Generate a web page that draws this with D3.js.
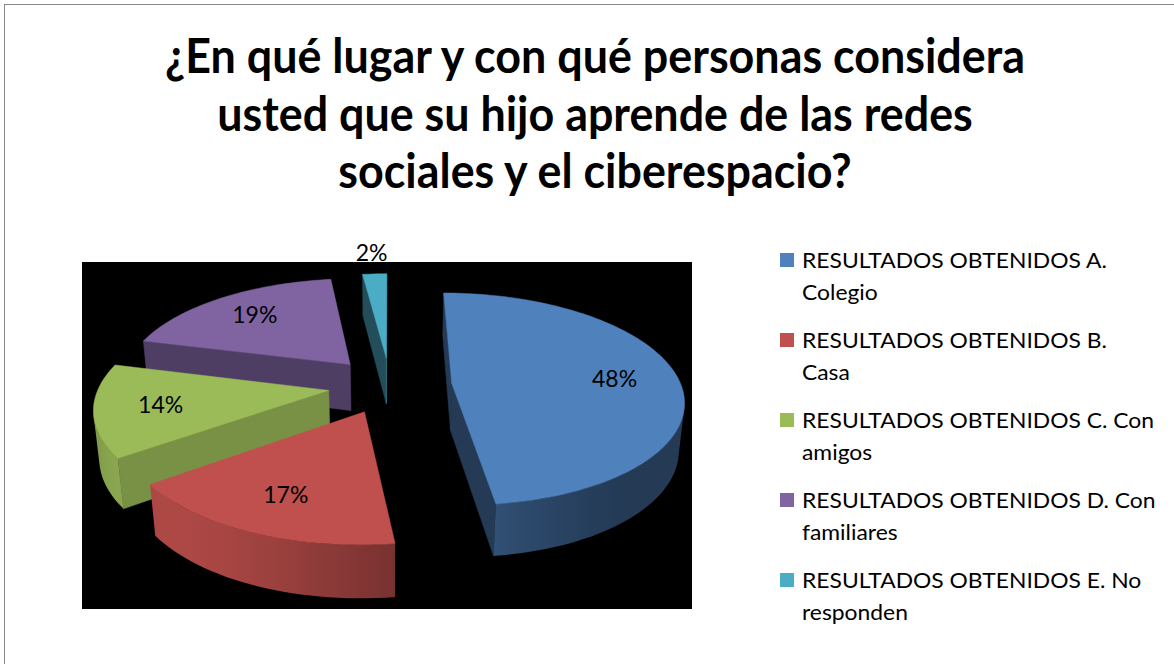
<!DOCTYPE html>
<head>
  <meta charset="utf-8">
  <script src="https://d3js.org/d3.v7.min.js"></script>
  <style>
    body { margin:0; background:#fff; }
    text { font-family: Lato, "Open Sans", sans-serif; fill:#000; }
  </style>
</head>
<body>
  <script>
    // data
    var titleLines = ["¿En qué lugar y con qué personas considera",
                      "usted que su hijo aprende de las redes",
                      "sociales y el ciberespacio?"];
    var categories = ["RESULTADOS OBTENIDOS A. Colegio",
                      "RESULTADOS OBTENIDOS B. Casa",
                      "RESULTADOS OBTENIDOS C. Con amigos",
                      "RESULTADOS OBTENIDOS D. Con familiares",
                      "RESULTADOS OBTENIDOS E. No responden"];
    var values = [48, 17, 14, 19, 2];
    var colors = ["#4f81bd", "#c0504d", "#9bbb59", "#8064a2", "#4bacc6"];

    var width = 1174, height = 664;

    var svg = d3.select("body").append("svg")
      .attr("width", width)
      .attr("height", height);
    var defs = svg.append("defs");

    // chart frame (cut off at right and bottom like the picture)
    svg.append("rect")
      .attr("x", 4.5).attr("y", 4.5)
      .attr("width", width + 20).attr("height", height + 20)
      .attr("fill", "#fff")
      .attr("stroke", "#8a8a8a");

    // black plot area
    var plot = {x: 82, y: 262, w: 610, h: 347};
    svg.append("rect")
      .attr("x", plot.x).attr("y", plot.y)
      .attr("width", plot.w).attr("height", plot.h)
      .attr("fill", "#000");

    // ---- title, squeezed to the width of the original ----
    var titleRows = svg.append("g").selectAll("g")
      .data(titleLines)
      .enter().append("g");
    var titleText = titleRows.append("text")
      .attr("text-anchor", "middle")
      .style("font-weight", "bold")
      .style("font-size", "48px")
      .text(function(d) { return d; });
    var titleK = 860 / titleText.node().getComputedTextLength();
    titleRows.attr("transform", function(d, i) {
      return "translate(595," + (73 + i * 57.5) + ") scale(" + titleK + ",1)";
    });

    // ---- 3D exploded pie ----
    var pie = d3.pie().sort(null).value(function(d) { return d; });
    var slices = pie(values);
    var total = d3.sum(values);
    var pct = d3.format(".0%");

    var cam = {phi: 29 * Math.PI / 180, D: 6, f: 1350, cx: 390, cy: 432};
    var thick = 0.234, explode = 0.27;
    var sinP = Math.sin(cam.phi), cosP = Math.cos(cam.phi);
    var camPos = [0, cam.D * sinP, cam.D * cosP];

    function proj(p) {
      var d = cam.D - (p[1] * sinP + p[2] * cosP);
      var v = p[1] * cosP - p[2] * sinP;
      return [cam.cx + cam.f * p[0] / d, cam.cy - cam.f * v / d];
    }
    function shade(c, k) {
      var r = d3.rgb(c);
      return d3.rgb(r.r * k, r.g * k, r.b * k).formatHex();
    }
    function poly(pts) {
      return "M" + pts.map(function(p) { return proj(p).join(","); }).join("L") + "Z";
    }
    function facing(n, p) {
      return n[0] * (camPos[0] - p[0]) + n[1] * (camPos[1] - p[1]) + n[2] * (camPos[2] - p[2]) > 0;
    }
    // rim lit from front-left, cut faces from front-right
    function rimTone(n) {
      var l = Math.max(0, (-n[0] + n[2]) * Math.SQRT1_2);
      return 0.45 + 0.45 * l * l;
    }
    function cutTone(n) {
      var l = Math.max(0, (n[0] + n[2]) * Math.SQRT1_2);
      return 0.45 + 0.33 * l;
    }

    slices.forEach(function(s, i) {
      s.mid = (s.startAngle + s.endAngle) / 2;
      s.color = colors[i];
      s.ox = explode * Math.sin(s.mid);
      s.oz = -explode * Math.cos(s.mid);
    });
    function at(s, r, a, y) {
      return [s.ox + r * Math.sin(a), y, s.oz - r * Math.cos(a)];
    }

    var pieG = svg.append("g");
    var order = slices.slice().sort(function(a, b) { return a.oz - b.oz; });

    order.forEach(function(s) {
      var g = pieG.append("g");
      var a0 = s.startAngle, a1 = s.endAngle;
      var c0 = at(s, 0, 0, 0), c1 = at(s, 0, 0, thick);

      // radial (cut) faces
      [[a0, -1], [a1, 1]].forEach(function(e) {
        var a = e[0];
        var n = [e[1] * Math.cos(a), 0, e[1] * Math.sin(a)];
        if (!facing(n, at(s, 0.5, a, thick / 2))) return;
        var col = shade(s.color, cutTone(n));
        g.append("path")
          .attr("d", poly([c0, c1, at(s, 1, a, thick), at(s, 1, a, 0)]))
          .attr("fill", col)
          .attr("stroke", col)
          .attr("stroke-width", 0.6);
      });

      // outer rim: visible runs as one path each, with a shading gradient
      var steps = Math.max(2, Math.ceil((a1 - a0) / (Math.PI / 90)));
      var runs = [], run = null;
      for (var k = 0; k <= steps; k++) {
        var t = a0 + (a1 - a0) * k / steps;
        var n = [Math.sin(t), 0, -Math.cos(t)];
        if (facing(n, at(s, 1, t, thick / 2))) {
          if (!run) { run = []; runs.push(run); }
          run.push(t);
        } else run = null;
      }
      runs.forEach(function(r, ri) {
        if (r.length < 2) return;
        var pts = r.map(function(t) { return at(s, 1, t, thick); })
          .concat(r.slice().reverse().map(function(t) { return at(s, 1, t, 0); }));
        var xs = r.map(function(t) { return proj(at(s, 1, t, thick))[0]; });
        var x0 = d3.min(xs), x1 = d3.max(xs);
        var id = "rim" + s.index + "_" + ri;
        var grad = defs.append("linearGradient")
          .attr("id", id)
          .attr("gradientUnits", "userSpaceOnUse")
          .attr("x1", x0).attr("x2", x1).attr("y1", 0).attr("y2", 0);
        var stops = r.map(function(t, j) {
          return {o: x1 > x0 ? (xs[j] - x0) / (x1 - x0) : 0,
                  c: shade(s.color, rimTone([Math.sin(t), 0, -Math.cos(t)]))};
        }).sort(function(a, b) { return a.o - b.o; });
        grad.selectAll("stop").data(stops).enter().append("stop")
          .attr("offset", function(d) { return d.o; })
          .attr("stop-color", function(d) { return d.c; });
        g.append("path")
          .attr("d", poly(pts))
          .attr("fill", "url(#" + id + ")");
      });

      // top face
      var top = [c1];
      var m = Math.max(2, Math.ceil((a1 - a0) / (Math.PI / 120)));
      for (var j = 0; j <= m; j++) top.push(at(s, 1, a0 + (a1 - a0) * j / m, thick));
      g.append("path")
        .attr("d", poly(top))
        .attr("fill", s.color)
        .attr("stroke", s.color)
        .attr("stroke-width", 0.5);
    });

    // data labels
    svg.append("g").selectAll("text")
      .data(slices)
      .enter().append("text")
      .attr("text-anchor", "middle")
      .attr("dy", "0.35em")
      .style("font-size", "23px")
      .attr("transform", function(d) {
        var r = d.value / total < 0.05 ? 1.3 : 0.72;
        var p = proj(at(d, r, d.mid, thick));
        return "translate(" + p[0] + "," + p[1] + ")";
      })
      .text(function(d) { return pct(d.value / total); });

    // ---- legend ----
    var leg = {x: 780, y: 260, step: 80, box: 14, tx: 802, lh: 32, maxW: 354};
    var legend = svg.append("g");
    var probe = legend.append("text").style("font-size", "22px").text("RESULTADOS OBTENIDOS A.");
    var legK = 305 / probe.node().getComputedTextLength();
    function measure(str) {
      probe.text(str);
      return probe.node().getComputedTextLength() * legK;
    }
    var wrapped = categories.map(function(c) {
      var words = c.split(" "), lines = [], cur = "";
      words.forEach(function(w) {
        var test = cur ? cur + " " + w : w;
        if (cur && measure(test) > leg.maxW) { lines.push(cur); cur = w; }
        else cur = test;
      });
      lines.push(cur);
      return lines;
    });
    probe.remove();

    var items = legend.selectAll("g.item")
      .data(categories)
      .enter().append("g")
      .attr("class", "item");
    items.append("rect")
      .attr("x", leg.x)
      .attr("y", function(d, i) { return leg.y + i * leg.step - leg.box / 2; })
      .attr("width", leg.box).attr("height", leg.box)
      .attr("fill", function(d, i) { return colors[i]; });
    items.each(function(d, i) {
      d3.select(this).selectAll("g.line")
        .data(wrapped[i])
        .enter().append("g")
        .attr("class", "line")
        .attr("transform", function(l, j) {
          return "translate(" + leg.tx + "," + (leg.y + i * leg.step + 8 + j * leg.lh) + ") scale(" + legK + ",1)";
        })
        .append("text")
        .style("font-size", "22px")
        .text(function(l) { return l; });
    });
  </script>
</body>
